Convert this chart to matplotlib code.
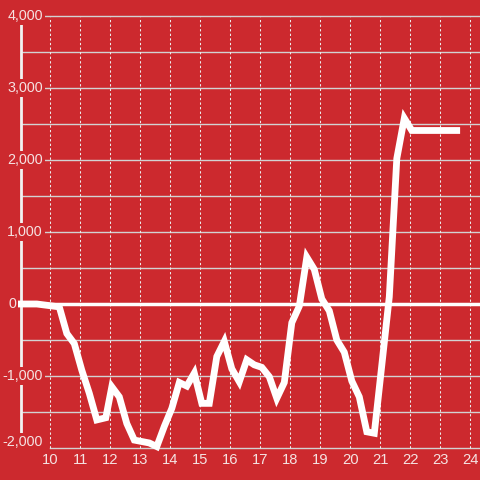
import matplotlib
matplotlib.use("Agg")
import matplotlib.pyplot as plt

# ---- data (hour of day, value) ----
hours = [8.9, 9.55, 10.3, 10.55, 10.8, 11.05, 11.3, 11.55, 11.85, 12.05, 12.3,
         12.55, 12.8, 13.05, 13.3, 13.55, 13.8, 14.05, 14.3, 14.55, 14.8, 15.05,
         15.3, 15.55, 15.8, 16.05, 16.3, 16.55, 16.8, 17.05, 17.3, 17.55, 17.8,
         18.05, 18.3, 18.55, 18.8, 19.05, 19.3, 19.55, 19.8, 20.05, 20.3, 20.55,
         20.8, 21.05, 21.3, 21.55, 21.8, 22.05, 23.66]
values = [0, 0, -40, -410, -550, -920, -1240, -1610, -1580, -1150, -1290,
          -1660, -1890, -1910, -1930, -1980, -1700, -1450, -1090, -1140, -960, -1380,
          -1380, -730, -520, -900, -1080, -775, -845, -880, -1010, -1310, -1090,
          -260, -30, 650, 480, 70, -95, -500, -670, -1070, -1290, -1775,
          -1795, -850, 100, 2020, 2580, 2410, 2410]

y_ticks = [4000, 3000, 2000, 1000, 0, -1000, -2000]
y_labels = ['4,000', '3,000', '2,000', '1,000', '0', '-1,000', '-2,000']
y_minor = [3500, 2500, 1500, 500, -500, -1500]
x_ticks = list(range(10, 25))
x_labels = [str(h) for h in x_ticks]

BG = '#cc292e'
TXT = '#f5e2e2'
plt.rcParams['font.family'] = ['Liberation Sans', 'DejaVu Sans']

fig = plt.figure(figsize=(4.8, 4.8), dpi=100, facecolor=BG)
ax = fig.add_axes([0, 0, 1, 1])
ax.set_facecolor(BG)
ax.axis('off')

# pixel-calibrated scale: hour 10 at x=50.3px, 30px/hour; 0 at y=304px, 72px/1000
xmin, xmax = 10 - 50.3 / 30, 10 + (480 - 50.3) / 30
ymin, ymax = (304 - 480) / 0.072, 304 / 0.072
ax.set_xlim(xmin, xmax)
ax.set_ylim(ymin, ymax)

bar_x = 9.01
# horizontal grid
for v in y_ticks[:-1] + y_minor:
    if v == 0:
        continue
    ax.plot([bar_x, xmax], [v, v], color='#d2d2d2', lw=1.0, zorder=1,
            solid_capstyle='butt')
ax.plot([10, xmax], [-2000, -2000], color='#d2d2d2', lw=1.0, zorder=1)
# vertical dotted grid
for h in x_ticks:
    ax.plot([h, h], [-2000, 3985], color='#ececec', lw=0.75,
            linestyle=(0, (2.2, 2.2)), zorder=1)
# y axis bar
ax.plot([bar_x, bar_x], [-2000, 4000], color='#f2f2f2', lw=2.0, zorder=2,
        solid_capstyle='butt')
# zero line
ax.plot([8.9, xmax], [0, 0], color='white', lw=2.5, zorder=2,
        solid_capstyle='butt')

# data line
ax.plot(hours, values, color='white', lw=4.9, zorder=3,
        solid_joinstyle='miter', solid_capstyle='butt', clip_on=False)

# y labels
lab_x = 10 + (43 - 50.3) / 30
zero_x = 10 + (16 - 50.3) / 30
for v, s in zip(y_ticks, y_labels):
    xx = zero_x if v == 0 else lab_x
    yy = -1917 if v == -2000 else v
    ax.text(xx, yy, s, ha='right', va='center', color=TXT, fontsize=10.3,
            zorder=5, bbox=dict(boxstyle='square,pad=0.12', fc=BG, ec='none'))

# x labels
xl_y = (304 - 460.5) / 0.072
for h, s in zip(x_ticks, x_labels):
    ax.text(h, xl_y, s, ha='center', va='center', color=TXT, fontsize=10.6,
            zorder=5)

fig.savefig('out.png', dpi=100, facecolor=BG)
